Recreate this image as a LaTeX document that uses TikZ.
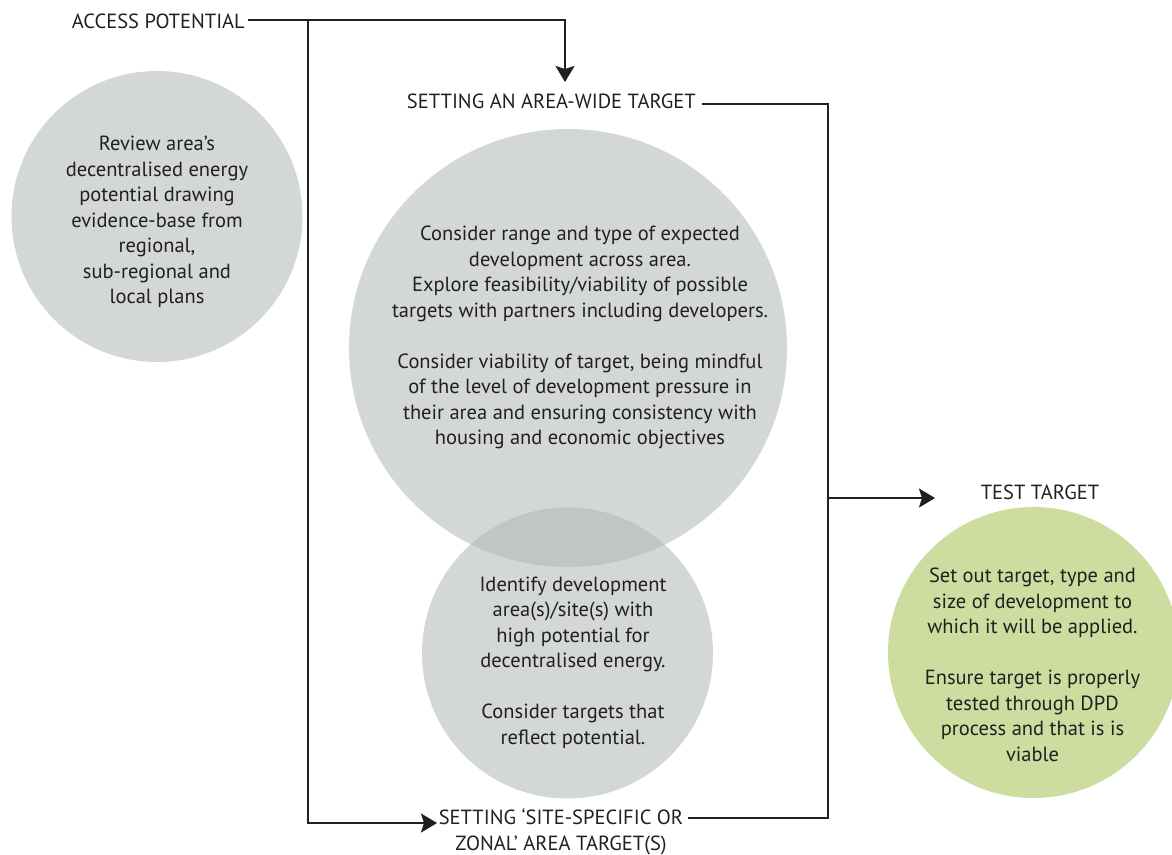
\documentclass[tikz,border=0pt]{standalone}
\usepackage{fontspec}
\setmainfont{PT Sans}
\usetikzlibrary{arrows.meta}
\definecolor{graycirc}{HTML}{D4D8D5}
\definecolor{grayover}{HTML}{C1C6C2}
\definecolor{greencirc}{HTML}{CCDD9F}
\definecolor{ink}{HTML}{231F20}
\tikzset{
  bubble/.style={circle, inner sep=0pt, draw=none},
  txt/.style={align=center, inner sep=0pt, text=ink, font=\fontsize{20.5}{25.5}\selectfont},
  lbl/.style={inner sep=0pt, text=ink, font=\fontsize{20.5}{25.5}\selectfont},
  ln/.style={draw=ink, line width=2pt},
  arr/.style={ln, -{Stealth[length=16pt,width=19pt,inset=3pt]}}
}
\begin{document}
\begin{tikzpicture}[x=1pt,y=-1pt]
\useasboundingbox (0,0) rectangle (1172,854);
\clip (0,0) rectangle (1172,854);
% circles
\node[bubble, fill=graycirc, minimum size=291pt] (c1) at (157,216.5) {};
\node[bubble, fill=graycirc, minimum size=438pt] (c2) at (568,348) {};
\node[bubble, fill=graycirc, minimum size=291pt] (c3) at (567.5,653) {};
\begin{scope}
  \clip (568,348) circle (219);
  \fill[grayover] (567.5,653) circle (145.5);
\end{scope}
\node[bubble, fill=greencirc, minimum size=291pt] (c4) at (1033.5,652.5) {};
% texts in circles
\node[txt] (t1) at (157,222) {Review area’s\\decentralised energy\\potential drawing\\evidence-base from\\regional,\\sub-regional and\\local plans};
\node[txt] (t2) at (580,337.5) {Consider range and type of expected\\development across area.\\Explore feasibility/viability of possible\\targets with partners including developers.\\[25.5pt]Consider viability of target, being mindful\\of the level of development pressure in\\their area and ensuring consistency with\\housing and economic objectives};
\node[txt] (t3) at (573,662.5) {Identify development\\area(s)/site(s) with\hspace{14pt}\\high potential for\\decentralised energy.\\[25.5pt]Consider targets that\\reflect potential.};
\node[txt] (t4) at (1032.5,665) {Set out target, type and\\size of development to\\which it will be applied.\\[25.5pt]Ensure target is properly\\tested through DPD\\process and that is is\\viable};
% labels
\node[lbl, anchor=east] (ap) at (245,21.5) {ACCESS POTENTIAL};
\node[lbl, anchor=east] (sa) at (696,101) {SETTING AN AREA-WIDE TARGET};
\node[lbl] (tt) at (1040,492) {TEST TARGET};
\node[txt] (ss) at (561,832) {SETTING ‘SITE-SPECIFIC OR\\ZONAL’ AREA TARGET(S)};
% coordinates
\coordinate (apout) at (248,20);
\coordinate (jl) at (308,20);
\coordinate (satip) at (565,82);
\coordinate (sstip) at (437,823);
\coordinate (saout) at (702,104);
\coordinate (jr) at (828,104);
\coordinate (ssout) at (688,818);
\coordinate (jm) at (828,498);
\coordinate (tttip) at (935,498);
% connectors
\draw[arr] (apout) -| (satip);
\draw[arr] (jl) |- (sstip);
\draw[ln] (saout) -| (jr) |- (ssout);
\draw[arr] (jm) -- (tttip);
\end{tikzpicture}
\end{document}
